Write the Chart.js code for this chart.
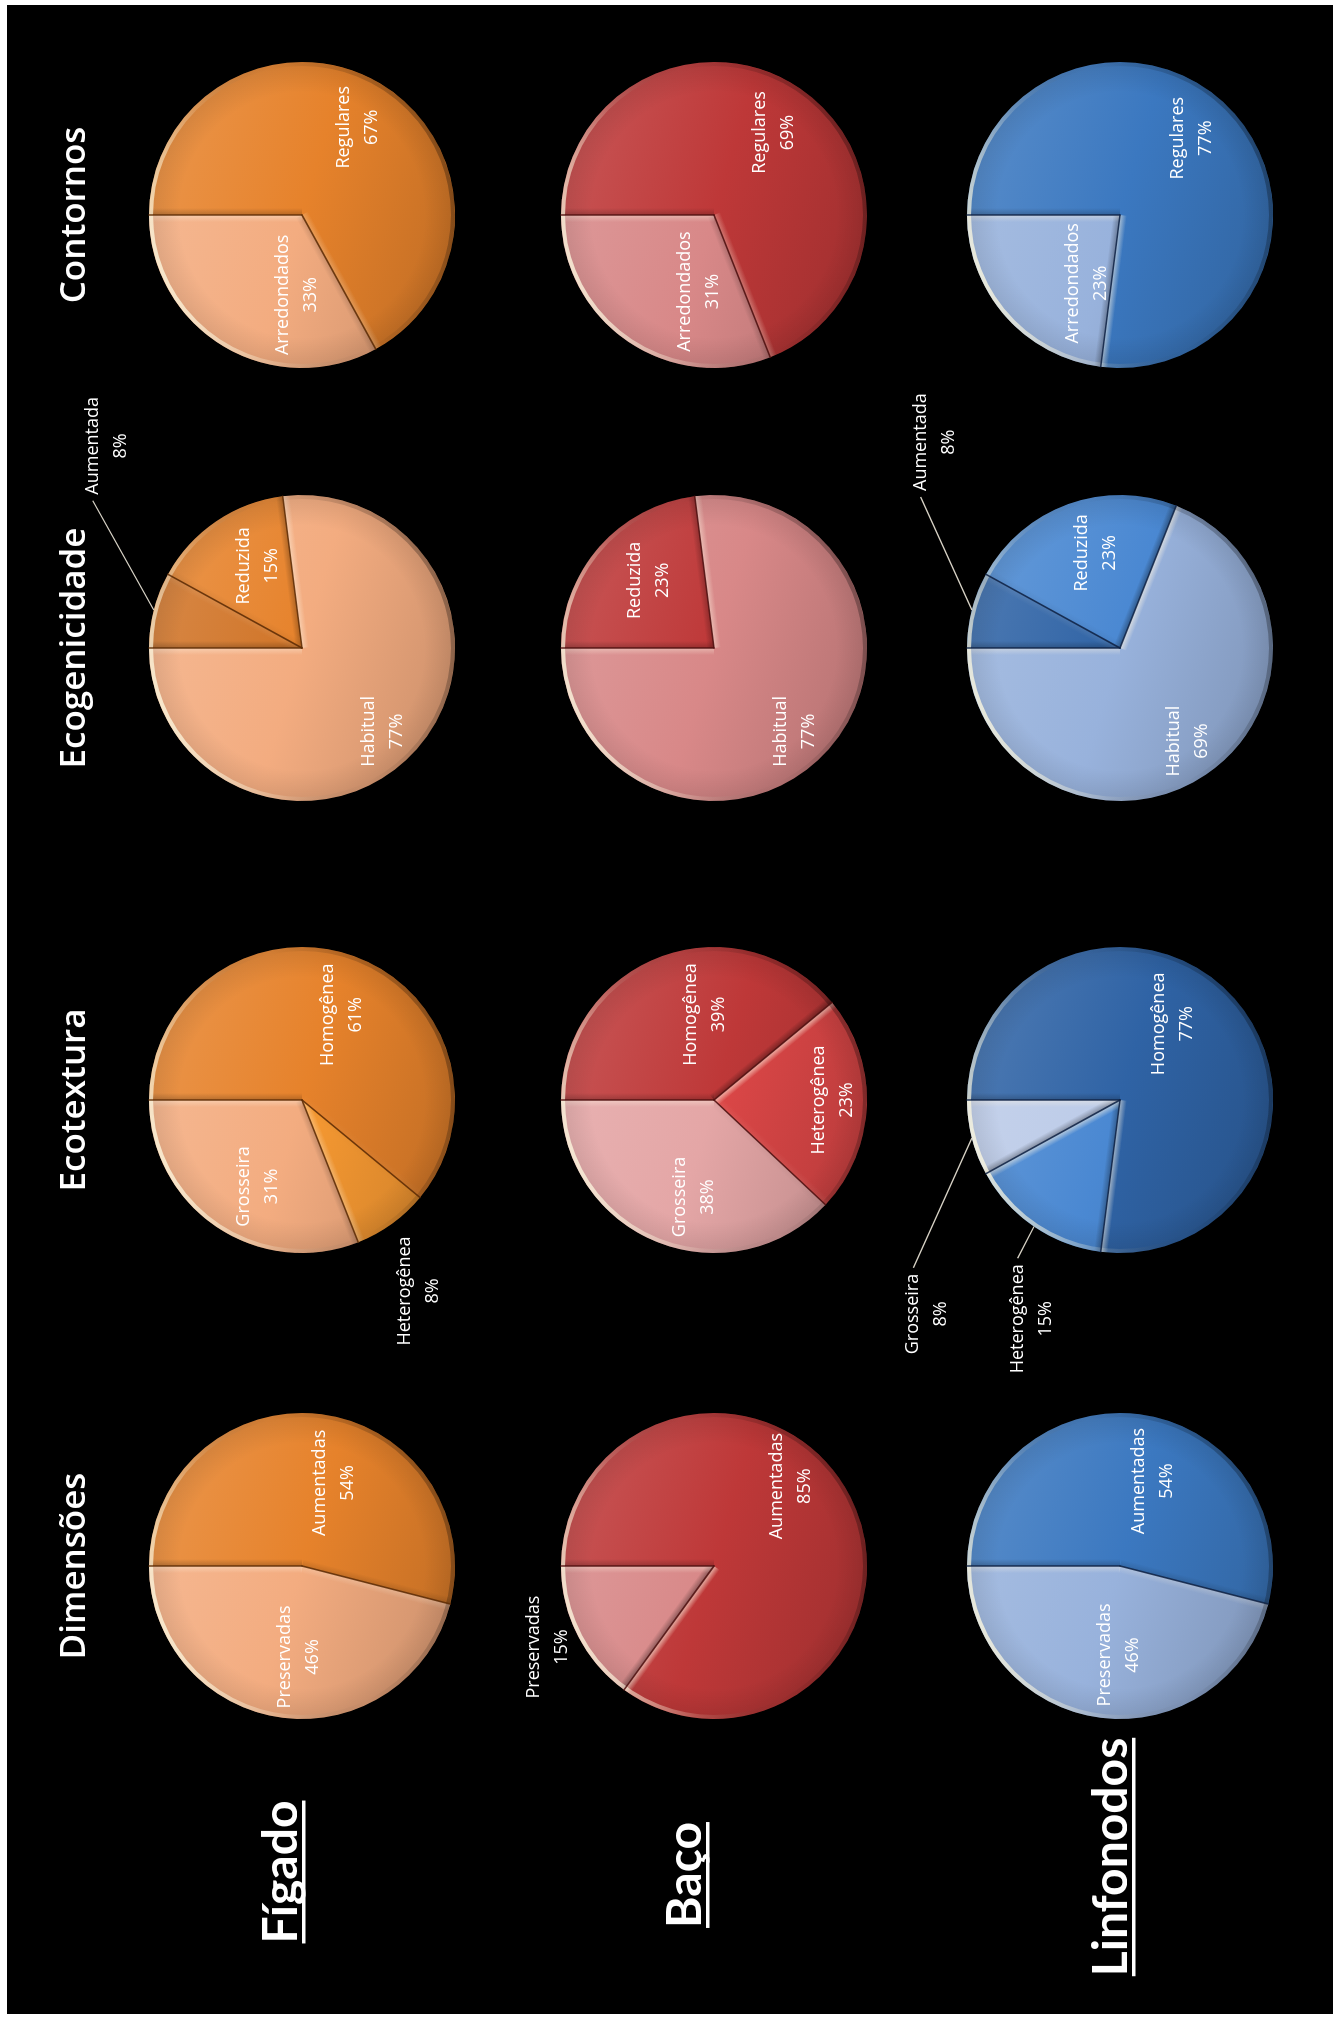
<!DOCTYPE html>
<html>
<head>
<meta charset="utf-8">
<script src="https://cdn.jsdelivr.net/npm/chart.js@4.4.1/dist/chart.umd.min.js"></script>
<style>
  html, body { margin: 0; padding: 0; background: #fff; }
  body { width: 1343px; height: 2020px; overflow: hidden; position: relative; }
  /* the sheet is laid out landscape and turned a quarter turn counter-clockwise */
  #sheet { position: absolute; left: 0; top: 0; width: 2020px; height: 1343px;
           transform-origin: 0 0; transform: translate(0, 2020px) rotate(-90deg); }
  #bg { position: absolute; left: 0; top: 0; }
  .pie { position: absolute; }
</style>
</head>
<body>
<div id="sheet"><canvas id="bg" width="2020" height="1343"></canvas></div>
<script>
// ---- titles ----
const columnTitles = ['Dimensões', 'Ecotextura', 'Ecogenicidade', 'Contornos'];
const rowTitles = ['Fígado', 'Baço', 'Linfonodos'];

// ---- categories ----
const dimLabels = ['Aumentadas', 'Preservadas'];
const texLabels = ['Homogênea', 'Heterogênea', 'Grosseira'];
const ecoLabels3 = ['Aumentada', 'Reduzida', 'Habitual'];
const ecoLabels2 = ['Reduzida', 'Habitual'];
const conLabels = ['Regulares', 'Arredondados'];

// ---- percentages ----
const figadoDim = [54, 46];
const figadoTex = [61, 8, 31];
const figadoEco = [8, 15, 77];
const figadoCon = [67, 33];
const bacoDim = [85, 15];
const bacoTex = [39, 23, 38];
const bacoEco = [23, 77];
const bacoCon = [69, 31];
const linfDim = [54, 46];
const linfTex = [77, 15, 8];
const linfEco = [8, 23, 69];
const linfCon = [77, 23];

// ---- layout (landscape sheet coordinates) ----
const R = 153;
const colX = [454, 920, 1372, 1805];
const rowY = [302, 714, 1120];
const titleBaseline = 85;
const rowLabelX = [148, 145, 163];
const rowLabelBaseline = [297, 701, 1127];
const CW = 640, CH = 600;

const palettes = {
  orange: { main: '#E6822B', light: '#F3AC80', deep: '#D07427', bright: '#F89A32', edge: 'rgba(95,45,5,0.85)' },
  red:    { main: '#BE3838', light: '#D88888', bright: '#DC4747', pale: '#E4A6A6', edge: 'rgba(80,15,15,0.85)' },
  blue:   { main: '#3B78C0', light: '#98B2DC', deep: '#2F63A5', mid: '#4A88D2', pale: '#BCCBE8', edge: 'rgba(15,35,70,0.85)' }
};

const pies = [
  { row: 0, col: 0, cats: dimLabels,  vals: figadoDim, pal: 'orange', tones: ['main', 'light'] },
  { row: 0, col: 1, cats: texLabels,  vals: figadoTex, pal: 'orange', tones: ['main', 'bright', 'light'] },
  { row: 0, col: 2, cats: ecoLabels3, vals: figadoEco, pal: 'orange', tones: ['deep', 'main', 'light'] },
  { row: 0, col: 3, cats: conLabels,  vals: figadoCon, pal: 'orange', tones: ['main', 'light'] },
  { row: 1, col: 0, cats: dimLabels,  vals: bacoDim,   pal: 'red',    tones: ['main', 'light'] },
  { row: 1, col: 1, cats: texLabels,  vals: bacoTex,   pal: 'red',    tones: ['main', 'bright', 'pale'] },
  { row: 1, col: 2, cats: ecoLabels2, vals: bacoEco,   pal: 'red',    tones: ['main', 'light'] },
  { row: 1, col: 3, cats: conLabels,  vals: bacoCon,   pal: 'red',    tones: ['main', 'light'] },
  { row: 2, col: 0, cats: dimLabels,  vals: linfDim,   pal: 'blue',   tones: ['main', 'light'] },
  { row: 2, col: 1, cats: texLabels,  vals: linfTex,   pal: 'blue',   tones: ['deep', 'mid', 'pale'] },
  { row: 2, col: 2, cats: ecoLabels3, vals: linfEco,   pal: 'blue',   tones: ['deep', 'mid', 'light'] },
  { row: 2, col: 3, cats: conLabels,  vals: linfCon,   pal: 'blue',   tones: ['main', 'light'] }
];

// data-label placement: [angle clockwise from 12 o'clock (deg), distance from centre (px), mode]
const labelLayout = [
  [[111, 89], [272, 91]],
  [[115, 94], [238.5, 224, 'out'], [297, 97]],
  [[46, 281, 'lead'], [62, 93], [226, 116]],
  [[122.5, 104], [274, 80]],
  [[134, 111], [334, 185, 'out']],
  [[84, 86], [180, 119], [281.6, 99]],
  [[46, 94], [226, 116]],
  [[126, 102], [281, 78]],
  [[111, 91], [271, 89]],
  [[125, 93], [292, 236, 'lead'], [312, 288, 'lead']],
  [[48, 277, 'lead'], [76, 98], [234, 115]],
  [[133, 105], [296, 76]]
];

function shade(hex, f) {
  const n = parseInt(hex.slice(1), 16);
  let r = n >> 16, g = (n >> 8) & 255, b = n & 255;
  if (f >= 0) { r += (255 - r) * f; g += (255 - g) * f; b += (255 - b) * f; }
  else { r *= 1 + f; g *= 1 + f; b *= 1 + f; }
  return `rgb(${Math.round(r)},${Math.round(g)},${Math.round(b)})`;
}

// ---- background, column titles, row titles ----
const bg = document.getElementById('bg').getContext('2d');
bg.fillStyle = '#fff'; bg.fillRect(0, 0, 2020, 1343);
bg.fillStyle = '#000'; bg.fillRect(6, 7, 2009, 1326);
bg.fillStyle = '#fff';
bg.textAlign = 'center'; bg.textBaseline = 'alphabetic';
bg.font = '600 35px "Open Sans"';
columnTitles.forEach((t, i) => bg.fillText(t, colX[i], titleBaseline));
bg.font = 'bold 48px Lato';
rowTitles.forEach((t, i) => {
  bg.fillText(t, rowLabelX[i], rowLabelBaseline[i]);
  const w = bg.measureText(t).width;
  bg.fillRect(rowLabelX[i] - w / 2, rowLabelBaseline[i] + 5, w, 3.5);
});

// ---- bevel shading, slice dividers and data labels ----
function pieDecor(spec, layout, pal) {
  return {
    id: 'pieDecor',
    afterDatasetsDraw(chart) {
      const c = chart.ctx;
      const arcs = chart.getDatasetMeta(0).data;
      const p0 = arcs[0].getProps(['x', 'y', 'outerRadius'], true);
      const cx = p0.x, cy = p0.y, r = p0.outerRadius;
      const L = { x: 0.6, y: -0.8 };

      if (arcs.length > 1) {
        arcs.forEach(arc => {
          const s = arc.startAngle, e = arc.endAngle;
          c.save();
          c.beginPath(); c.moveTo(cx, cy); c.arc(cx, cy, r, s, e); c.closePath(); c.clip();
          [[s, -1], [e, 1]].forEach(([ang, sign]) => {
            const ux = Math.cos(ang), uy = Math.sin(ang);
            const nx = -uy * sign, ny = ux * sign;
            const k = nx * L.x + ny * L.y;
            const w = 7;
            const mx = cx + ux * r / 2, my = cy + uy * r / 2;
            const g = c.createLinearGradient(mx, my, mx - nx * w, my - ny * w);
            const col = k > 0 ? '255,246,228' : '0,0,0';
            const a = k > 0 ? 0.65 * k : 0.35 * -k;
            g.addColorStop(0, `rgba(${col},${a})`);
            g.addColorStop(1, `rgba(${col},0)`);
            c.fillStyle = g;
            c.beginPath();
            c.moveTo(cx, cy); c.lineTo(cx + ux * r, cy + uy * r);
            c.lineTo(cx + ux * r - nx * w, cy + uy * r - ny * w); c.lineTo(cx - nx * w, cy - ny * w);
            c.closePath(); c.fill();
          });
          c.restore();
        });
      }

      // rounded rim: lit on the upper side, shaded on the lower side
      c.save();
      c.beginPath(); c.arc(cx, cy, r, 0, Math.PI * 2); c.clip();
      const sg = c.createRadialGradient(cx, cy, r * 0.8, cx, cy, r);
      sg.addColorStop(0, 'rgba(0,0,0,0)'); sg.addColorStop(1, 'rgba(0,0,0,0.1)');
      c.fillStyle = sg; c.fillRect(cx - r, cy - r, 2 * r, 2 * r);
      const rg = c.createLinearGradient(cx - 0.35 * r, cy - r, cx + 0.35 * r, cy + r);
      rg.addColorStop(0, 'rgba(255,250,225,0.85)');
      rg.addColorStop(0.3, 'rgba(255,250,225,0.15)');
      rg.addColorStop(0.55, 'rgba(0,0,0,0)');
      rg.addColorStop(1, 'rgba(0,0,0,0.3)');
      c.strokeStyle = rg; c.lineWidth = 8;
      c.beginPath(); c.arc(cx, cy, r, 0, Math.PI * 2); c.stroke();
      c.restore();

      if (arcs.length > 1) {
        c.save();
        c.strokeStyle = pal.edge; c.lineWidth = 1.6; c.lineCap = 'round';
        arcs.forEach(arc => {
          const s = arc.startAngle;
          c.beginPath(); c.moveTo(cx, cy); c.lineTo(cx + Math.cos(s) * r, cy + Math.sin(s) * r); c.stroke();
        });
        c.restore();
      }

      c.save();
      c.font = '18px "Open Sans"';
      c.textAlign = 'center'; c.textBaseline = 'middle';
      arcs.forEach((arc, i) => {
        const [deg, d, mode] = layout[i];
        const a = deg * Math.PI / 180;
        const lx = cx + d * Math.sin(a), ly = cy - d * Math.cos(a);
        const name = spec.cats[i], pct = spec.vals[i] + '%';
        const y1 = ly - 14, y2 = ly + 14;
        if (mode === 'lead') {
          const m = (arc.startAngle + arc.endAngle) / 2;
          const ex = cx + Math.cos(m) * r, ey = cy + Math.sin(m) * r;
          const w1 = c.measureText(name).width;
          const tx = lx > ex ? lx - w1 / 2 - 6 : lx + w1 / 2 + 6;
          c.strokeStyle = '#D8D3C6'; c.lineWidth = 1.3;
          c.beginPath(); c.moveTo(ex, ey); c.lineTo(tx, y1); c.stroke();
        }
        c.fillStyle = '#FFFFFF';
        c.fillText(name, lx, y1);
        c.fillText(pct, lx, y2);
      });
      c.restore();
    }
  };
}

// ---- the twelve pies ----
const sheet = document.getElementById('sheet');
pies.forEach((spec, idx) => {
  const cv = document.createElement('canvas');
  cv.width = CW; cv.height = CH; cv.className = 'pie';
  cv.style.left = (colX[spec.col] - CW / 2) + 'px';
  cv.style.top = (rowY[spec.row] - CH / 2) + 'px';
  sheet.appendChild(cv);
  const ctx2 = cv.getContext('2d');
  const pal = palettes[spec.pal];
  const fills = spec.tones.map(t => {
    const base = pal[t];
    const g = ctx2.createLinearGradient(CW / 2 + 0.3 * R, CH / 2 - R, CW / 2 - 0.3 * R, CH / 2 + R);
    g.addColorStop(0, shade(base, 0.14));
    g.addColorStop(0.5, base);
    g.addColorStop(1, shade(base, -0.15));
    return g;
  });
  new Chart(cv, {
    type: 'pie',
    data: {
      labels: spec.cats,
      datasets: [{ data: spec.vals, backgroundColor: fills, borderWidth: 0 }]
    },
    options: {
      responsive: false,
      animation: false,
      devicePixelRatio: 1,
      events: [],
      radius: R,
      rotation: 0,
      layout: { padding: 0 },
      plugins: { legend: { display: false }, tooltip: { enabled: false }, title: { display: false } }
    },
    plugins: [pieDecor(spec, labelLayout[idx], pal)]
  });
});
</script>
</body>
</html>
